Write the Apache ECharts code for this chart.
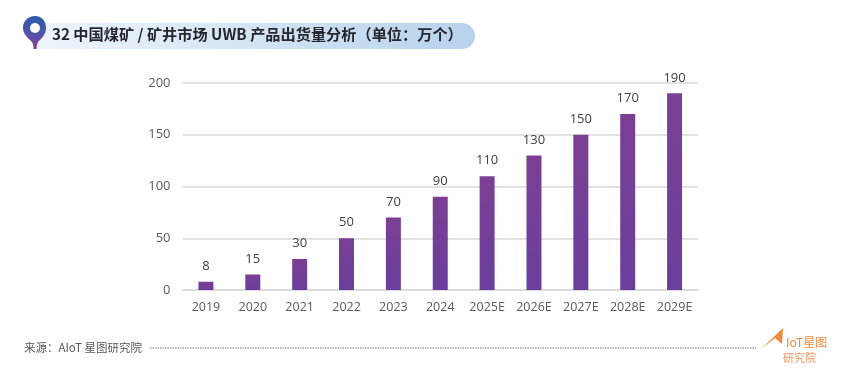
<!DOCTYPE html>
<html>
<head>
<meta charset="utf-8">
<style>
    html, body { margin: 0; padding: 0; background: #fff; }
    #chart { width: 852px; height: 377px; }
</style>
<script src="https://cdn.jsdelivr.net/npm/echarts@6/dist/echarts.min.js"></script>
</head>
<body>
<div id="chart"></div>
<script>
// 出货量数据
let years = ['2019', '2020', '2021', '2022', '2023', '2024', '2025E', '2026E', '2027E', '2028E', '2029E'];
let shipments = [8, 15, 30, 50, 70, 90, 110, 130, 150, 170, 190];
let titleText = '32 中国煤矿 / 矿井市场 UWB 产品出货量分析（单位：万个）';
let sourceText = '来源：AIoT 星图研究院';
let fontName = '"Noto Sans CJK SC", "Noto Sans", sans-serif';
let digitFont = '"Open Sans", "Noto Sans", sans-serif';

// 定位图标和 logo 的形状
echarts.graphic.registerShape('pinShape', echarts.graphic.extendPath(
    'M35 16 C28 16 23 21 23 28 C23 34 28 38 32 42 C33 44 33.5 46 33.5 49 L36.5 49 C36.5 46 37 44 38 42 C42 38 46 34 46 28 C46 21 42 16 35 16 Z'
));
echarts.graphic.registerShape('logoShape', echarts.graphic.extendPath(
    'M761 349 L783 328 L782 344 L775 338 Z'
));

let chart = echarts.init(document.getElementById('chart'), null, {renderer: 'canvas'});
let option = {
    backgroundColor: '#fff',
    animation: false,
    textStyle: {fontFamily: fontName},
    grid: {left: 182.5, right: 154, top: 83, bottom: 87},
    xAxis: {
        type: 'category',
        data: years,
        axisTick: {show: false},
        axisLine: {lineStyle: {color: '#d9d9d9', width: 1.5}},
        axisLabel: {color: '#595959', fontFamily: digitFont, fontSize: 12.5, margin: 11, interval: 0}
    },
    yAxis: {
        type: 'value',
        min: 0,
        max: 200,
        interval: 50,
        axisLine: {show: false},
        axisTick: {show: false},
        axisLabel: {color: '#595959', fontFamily: digitFont, fontSize: 13, margin: 12},
        splitLine: {lineStyle: {color: '#d9d9d9', width: 1.5}}
    },
    series: [{
        type: 'bar',
        data: shipments,
        barWidth: 15,
        itemStyle: {
            color: new echarts.graphic.LinearGradient(0, 0, 0, 1, [
                {offset: 0, color: '#7b3f94'},
                {offset: 1, color: '#6a3f9c'}
            ])
        },
        label: {show: true, position: 'top', distance: 9, color: '#404040', fontFamily: digitFont, fontSize: 13}
    }],
    graphic: [
        // 标题底条
        {
            type: 'rect', z: 1,
            shape: {x: 36, y: 23, width: 439, height: 26, r: [0, 13, 13, 0]},
            style: {
                fill: new echarts.graphic.LinearGradient(0, 0, 1, 0, [
                    {offset: 0, color: '#eef5fa'},
                    {offset: 1, color: '#b7d2ec'}
                ])
            }
        },
        {
            type: 'pinShape', z: 2,
            style: {
                fill: new echarts.graphic.LinearGradient(0, 0, 0, 1, [
                    {offset: 0, color: '#2b5cab'},
                    {offset: 0.5, color: '#4d55a8'},
                    {offset: 1, color: '#8a3c98'}
                ])
            }
        },
        {type: 'circle', z: 3, shape: {cx: 35, cy: 28, r: 5}, style: {fill: '#fff'}},
        {
            type: 'text', z: 4, left: 52, top: 27,
            style: {text: titleText, fill: '#26262e', font: 'bold 15.2px ' + fontName}
        },
        // 来源
        {
            type: 'text', left: 24, top: 342,
            style: {text: sourceText, fill: '#595959', font: '11.5px ' + fontName}
        },
        {
            type: 'line',
            shape: {x1: 150, y1: 348, x2: 756, y2: 348},
            style: {stroke: '#777', lineWidth: 1, lineDash: [1.5, 1]}
        },
        // logo
        {type: 'logoShape', z: 2, style: {fill: '#ef8a3c'}},
        {
            type: 'text', left: 786, top: 336,
            style: {text: 'IoT星图', fill: '#ef8a3c', font: '12px ' + fontName}
        },
        {
            type: 'text', left: 783, top: 352,
            style: {text: '研究院', fill: '#ef9a5c', font: '11px ' + fontName}
        }
    ]
};
chart.setOption(option);
</script>
</body>
</html>
